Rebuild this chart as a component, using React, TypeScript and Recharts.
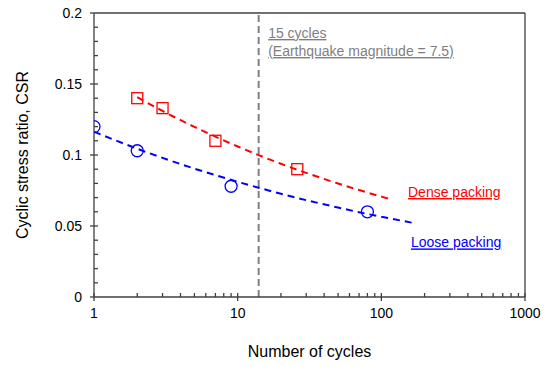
import React from "react";
import {
  ComposedChart,
  Line,
  Scatter,
  XAxis,
  YAxis,
  ReferenceLine,
  ReferenceDot,
} from "recharts";

// measured points
const denseX = [2, 3, 7, 26];
const denseY = [0.14, 0.133, 0.11, 0.09];
const looseX = [1, 2, 9, 80];
const looseY = [0.12, 0.103, 0.078, 0.06];

// trend lines
const denseTrendX = [2, 3, 5, 7, 10, 15, 20, 30, 50, 70, 100, 118];
const denseTrendY = [0.1407, 0.131, 0.1198, 0.1129, 0.106, 0.0987, 0.0938, 0.0874, 0.0799, 0.0753, 0.0707, 0.0687];
const looseTrendX = [1, 2, 3, 5, 7, 10, 15, 20, 30, 50, 70, 100, 166];
const looseTrendY = [0.1164, 0.1044, 0.098, 0.0904, 0.0858, 0.0811, 0.0761, 0.0727, 0.0682, 0.063, 0.0597, 0.0565, 0.0522];

const xTicks = [1, 10, 100, 1000];
const xMinorTicks = [
  1, 2, 3, 4, 5, 6, 7, 8, 9, 10, 20, 30, 40, 50, 60, 70, 80, 90, 100,
  200, 300, 400, 500, 600, 700, 800, 900, 1000,
];
const yTicks = [0, 0.05, 0.1, 0.15, 0.2];
const yMinorTicks = [
  0.01, 0.02, 0.03, 0.04, 0.05, 0.06, 0.07, 0.08, 0.09, 0.1, 0.11, 0.12,
  0.13, 0.14, 0.15, 0.16, 0.17, 0.18, 0.19,
];

const cyclesLine = 14;

const labels = [
  { text: "15 cycles", x: 16.3, y: 0.1824, color: "#7f7f7f" },
  { text: "(Earthquake magnitude = 7.5)", x: 16.3, y: 0.1697, color: "#7f7f7f" },
  { text: "Dense packing", x: 153.3, y: 0.0704, color: "#ff0000" },
  { text: "Loose packing", x: 160.9, y: 0.0349, color: "#0000ff" },
];

const zip = (xs: number[], ys: number[]) => xs.map((x, i) => ({ x, y: ys[i] }));

const AXIS = "#404040";
const FONT = "'Liberation Sans', Arial, sans-serif";

const Square = (p: any) => (
  <rect
    x={p.cx - 5.5}
    y={p.cy - 5.5}
    width={11}
    height={11}
    fill="none"
    stroke="#ff0000"
    strokeWidth={1.3}
  />
);

const Circle = (p: any) => (
  <circle cx={p.cx} cy={p.cy} r={6} fill="none" stroke="#0000ff" strokeWidth={1.3} />
);

const NoLabel = () => <g />;

// short inward tick at the left edge of a horizontal reference line
const InnerYTick = (p: any) => (
  <line x1={p.x1} y1={p.y1} x2={p.x1 + 4} y2={p.y1} stroke={AXIS} strokeWidth={1.3} />
);

export default function App() {
  return (
    <div style={{ position: "absolute", left: 0, top: 0, background: "#fff" }}>
      <ComposedChart
        width={550}
        height={367}
        margin={{ top: 13, right: 25, left: 0, bottom: 0 }}
        style={{ fontFamily: FONT }}
      >
        <XAxis
          dataKey="x"
          type="number"
          scale="log"
          domain={[1, 1000]}
          allowDataOverflow
          ticks={xTicks}
          interval={0}
          height={70}
          tickSize={4}
          tickMargin={7}
          tick={{ fill: "#000", fontSize: 14 }}
          axisLine={{ stroke: AXIS, strokeWidth: 1.3 }}
          tickLine={{ stroke: AXIS, strokeWidth: 1.3 }}
          label={{
            value: "Number of cycles",
            position: "insideBottom",
            offset: 10,
            fill: "#000",
            fontSize: 16,
          }}
        />
        {/* inward minor ticks */}
        <XAxis
          xAxisId="minor"
          dataKey="x"
          type="number"
          scale="log"
          domain={[1, 1000]}
          allowDataOverflow
          ticks={xMinorTicks}
          interval={0}
          mirror
          height={1}
          tick={NoLabel}
          tickSize={4}
          axisLine={false}
          tickLine={{ stroke: AXIS, strokeWidth: 1.3 }}
        />
        <YAxis
          dataKey="y"
          type="number"
          domain={[0, 0.2]}
          ticks={yTicks}
          interval={0}
          width={94}
          tickSize={4}
          tickMargin={8}
          tick={{ fill: "#000", fontSize: 14 }}
          axisLine={{ stroke: AXIS, strokeWidth: 1.3 }}
          tickLine={{ stroke: AXIS, strokeWidth: 1.3 }}
          label={{
            value: "Cyclic stress ratio, CSR",
            angle: -90,
            position: "insideLeft",
            offset: 22,
            fill: "#000",
            fontSize: 16,
            style: { textAnchor: "middle" },
          }}
        />

        {yMinorTicks.map((v) => (
          <ReferenceLine key={v} y={v} shape={InnerYTick} />
        ))}

        {/* box around plot */}
        <ReferenceLine y={0.2} stroke={AXIS} strokeWidth={1.3} />
        <ReferenceLine x={1000} stroke={AXIS} strokeWidth={1.3} />

        <ReferenceLine
          x={cyclesLine}
          stroke="#808080"
          strokeWidth={2}
          strokeDasharray="7 4"
        />

        <Line
          data={zip(denseTrendX, denseTrendY)}
          dataKey="y"
          type="monotone"
          stroke="#ff0000"
          strokeWidth={2}
          strokeDasharray="7 5"
          dot={false}
          activeDot={false}
          isAnimationActive={false}
        />
        <Line
          data={zip(looseTrendX, looseTrendY)}
          dataKey="y"
          type="monotone"
          stroke="#0000ff"
          strokeWidth={2}
          strokeDasharray="7 5"
          dot={false}
          activeDot={false}
          isAnimationActive={false}
        />
        <Scatter
          data={zip(denseX, denseY)}
          dataKey="y"
          shape={Square}
          isAnimationActive={false}
        />
        <Scatter
          data={zip(looseX, looseY)}
          dataKey="y"
          shape={Circle}
          isAnimationActive={false}
        />

        {labels.map((l) => (
          <ReferenceDot
            key={l.text}
            x={l.x}
            y={l.y}
            r={1}
            shape={(p: any) => (
              <text
                x={p.cx}
                y={p.cy}
                fill={l.color}
                fontSize={14}
                fontFamily={FONT}
                textDecoration="underline"
              >
                {l.text}
              </text>
            )}
          />
        ))}
      </ComposedChart>
    </div>
  );
}
